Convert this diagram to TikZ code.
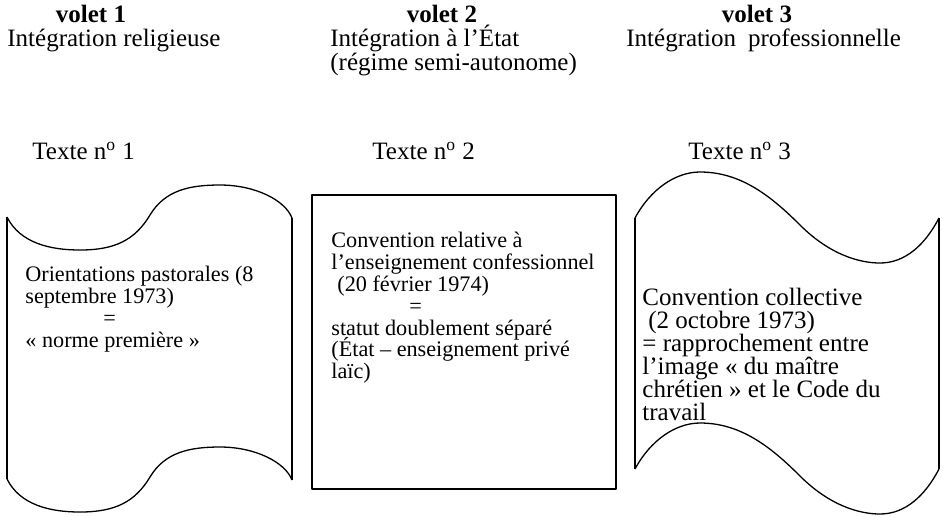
\documentclass[tikz,border=0pt]{standalone}
\usepackage{fontspec}
\setmainfont{Liberation Serif}
\newcommand{\tightlines}{\lineskiplimit=-50pt\relax}
\tikzset{
	tape line/.style={line width=0.65pt, line join=round},
	head node/.style={font=\fontsize{12.5}{13}\selectfont, inner sep=0pt, anchor=base west},
	volet node/.style={font=\fontsize{12.5}{13}\selectfont\bfseries, inner sep=0pt, anchor=base},
	body node/.style={font=\fontsize{11.1}{10.9}\selectfont\tightlines, inner sep=0pt, anchor=north west, align=left},
	big body node/.style={body node, font=\fontsize{12.5}{11.5}\selectfont\tightlines}
}
\begin{document}
\begin{tikzpicture}[x=0.5pt,y=-0.5pt]
	\useasboundingbox (0,0) rectangle (943,516);
	\newcommand{\drawbendA}[1]{
		\draw[tape line] (7,{217+#1}) .. controls (20,{243+#1}) and (50,{250+#1}) .. (80,{250+#1})
			.. controls (115,{250+#1}) and (135,{240+#1}) .. (150,{215+#1})
			.. controls (165,{190+#1}) and (190,{185+#1}) .. (220,{185+#1})
			.. controls (255,{185+#1}) and (285,{200+#1}) .. (292,{218+#1});
	}
	\newcommand{\drawbendC}[1]{
		\draw[tape line] (635,{218+#1}) .. controls (650,{190+#1}) and (675,{172+#1}) .. (700,{172+#1})
			.. controls (740,{172+#1}) and (770,{195+#1}) .. (800,{225+#1})
			.. controls (830,{255+#1}) and (860,{263+#1}) .. (880,{263+#1})
			.. controls (905,{263+#1}) and (925,{245+#1}) .. (939,{218+#1});
	}
	% en-tetes
	\node[volet node] (volA) at (91,22) {volet 1};
	\node[head node] (intA) at (7,46) {Intégration religieuse};
	\node[volet node] (volB) at (442,22) {volet 2};
	\node[head node] (intB) at (330,46) {Intégration à l’État};
	\node[head node] (regB) at (330,70) {(régime semi-autonome)};
	\node[volet node] (volC) at (757,22) {volet 3};
	\node[head node] (intC) at (626,46) {Intégration\hspace{6pt}professionnelle};
	\node[head node] (txtA) at (32,159) {Texte n\textsuperscript{o} 1};
	\node[head node] (txtB) at (372,159) {Texte n\textsuperscript{o} 2};
	\node[head node] (txtC) at (688,159) {Texte n\textsuperscript{o} 3};
	% texte 1
	\drawbendA{0}
	\drawbendA{262}
	\draw[tape line] (7,217) -- (7,479);
	\draw[tape line] (292,218) -- (292,480);
	\node[body node] (docA) at (25,266) {Orientations pastorales (8\\septembre 1973)\\\hspace*{39pt}=\\« norme première »};
	% texte 2
	\draw[tape line] (312,195) rectangle (616,489);
	\node[body node] (docB) at (331,232) {Convention relative à\\l’enseignement confessionnel\\\hspace*{3pt}(20 février 1974)\\\hspace*{39pt}=\\statut doublement séparé\\(État – enseignement privé\\laïc)};
	% texte 3
	\drawbendC{0}
	\drawbendC{251}
	\draw[tape line] (635,218) -- (635,469);
	\draw[tape line] (939,218) -- (939,469);
	\node[big body node] (docC) at (642,288) {Convention collective\\\hspace*{3pt}(2 octobre 1973)\\= rapprochement entre\\l’image « du maître\\chrétien » et le Code du\\travail};
\end{tikzpicture}
\end{document}
